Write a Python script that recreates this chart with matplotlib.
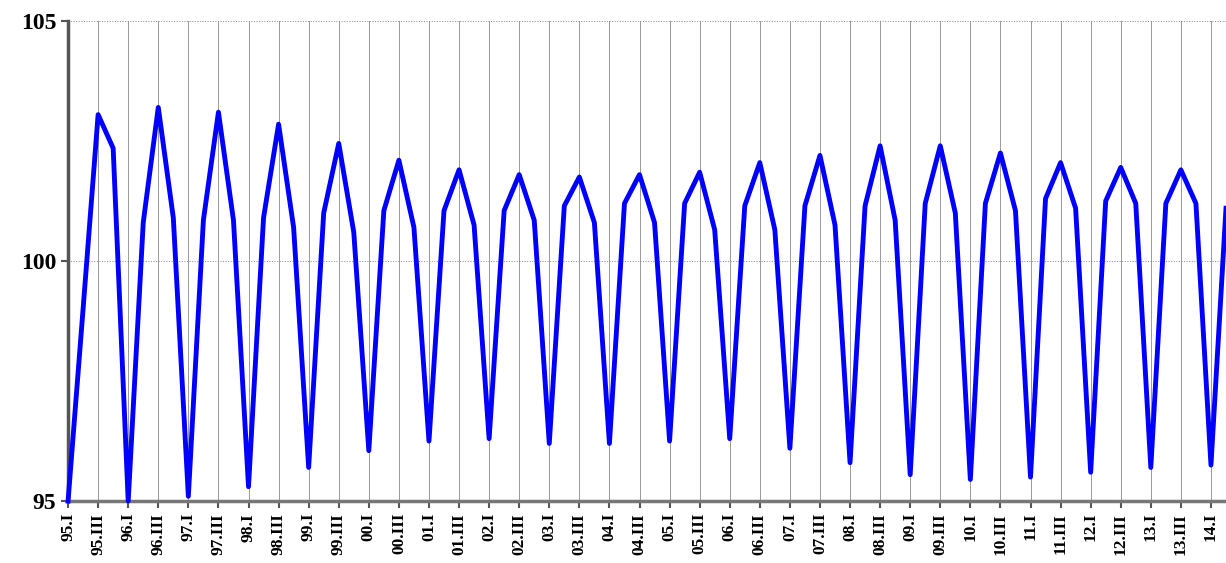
import matplotlib.pyplot as plt
import numpy as np

years = ['95', '96', '97', '98', '99', '00', '01', '02', '03', '04',
         '05', '06', '07', '08', '09', '10', '11', '12', '13', '14']
quarters = ['I', 'II', 'III', 'IV']

values = [
    95.0, 99.0, 103.05, 102.35,
    95.0, 100.8, 103.2, 100.9,
    95.1, 100.85, 103.1, 100.85,
    95.3, 100.9, 102.85, 100.7,
    95.7, 101.0, 102.45, 100.6,
    96.05, 101.05, 102.1, 100.7,
    96.25, 101.05, 101.9, 100.75,
    96.3, 101.05, 101.8, 100.85,
    96.2, 101.15, 101.75, 100.8,
    96.2, 101.2, 101.8, 100.8,
    96.25, 101.2, 101.85, 100.65,
    96.3, 101.15, 102.05, 100.65,
    96.1, 101.15, 102.2, 100.75,
    95.8, 101.15, 102.4, 100.85,
    95.55, 101.2, 102.4, 101.0,
    95.45, 101.2, 102.25, 101.05,
    95.5, 101.3, 102.05, 101.1,
    95.6, 101.25, 101.95, 101.2,
    95.7, 101.2, 101.9, 101.2,
    95.75, 101.1,
]

labels = [y + '.' + q for y in years for q in quarters][:len(values)]
x = np.arange(len(values))

fig = plt.figure(figsize=(12.26, 5.63), dpi=100)
ax = fig.add_axes([0.0555, 0.110, 0.9445, 0.8527])
ax.plot(x, values, color='#0000ff', linewidth=3.5, clip_on=False, zorder=3)

ax.set_xlim(0, len(values) - 1)
ax.set_ylim(95, 105)
ax.set_yticks([95, 100, 105])
ax.set_yticklabels(['95', '100', '105'], fontfamily='Liberation Serif', fontweight='bold', fontsize=17)
ax.set_xticks(x[::2])
ax.set_xticklabels(labels[::2], rotation=90, fontfamily='Liberation Serif', fontweight='bold', fontsize=12.5)
ax.grid(True, axis='x', color='#999999', linewidth=0.7)
ax.grid(True, axis='y', color='#888888', linewidth=0.7, linestyle=':')
ax.tick_params(axis='both', length=5, width=1.5, color='#555555')
for s in ['top', 'right']:
    ax.spines[s].set_visible(False)
ax.spines['left'].set_linewidth(2.5)
ax.spines['left'].set_color('#555555')
ax.spines['bottom'].set_linewidth(2.5)
ax.spines['bottom'].set_color('#777777')

fig.savefig('out.png')
